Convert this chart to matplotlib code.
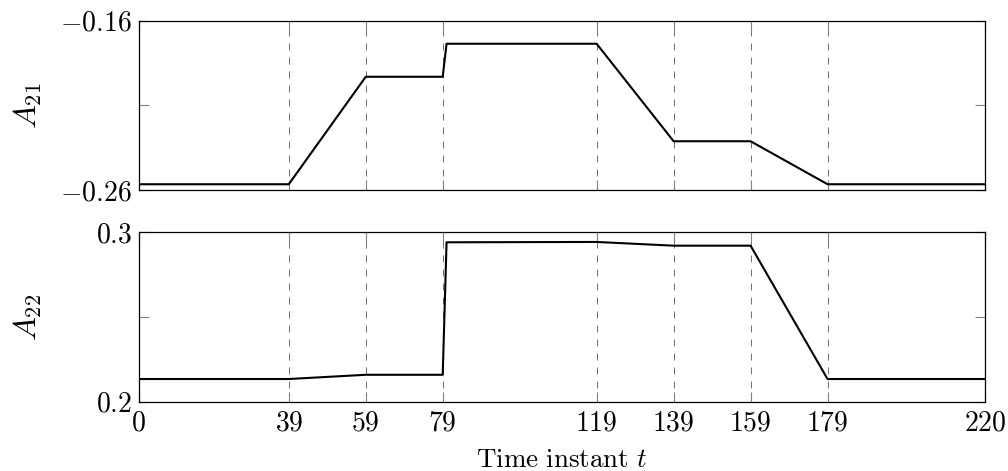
import matplotlib
matplotlib.use('Agg')
from matplotlib import pyplot as plt

# time instants where the profiles change
t_pts = [0, 39, 59, 79, 80, 119, 139, 159, 179, 220]

a21 = [-0.2566, -0.2566, -0.1931, -0.1931, -0.1736, -0.1736, -0.2312, -0.2312, -0.2566, -0.2566]
a22 = [0.2134, 0.2134, 0.2159, 0.2159, 0.2941, 0.2943, 0.2921, 0.2921, 0.2134, 0.2134]

switch_times = [39, 59, 79, 119, 139, 159, 179]
x_ticks = [0, 39, 59, 79, 119, 139, 159, 179, 220]

plt.rcParams['mathtext.fontset'] = 'cm'
plt.rcParams['font.family'] = 'serif'
plt.rcParams['font.serif'] = ['cmr10', 'DejaVu Serif']
plt.rcParams['axes.formatter.use_mathtext'] = True

FS = 20

fig = plt.figure(figsize=(10.08, 4.71), dpi=100)
ax1 = fig.add_axes([0.1376, 0.5966, 0.8399, 0.3594])
ax2 = fig.add_axes([0.1376, 0.1471, 0.8399, 0.3597])


def style_axis(ax, data, ylim, yticks, ylabels, ylabel, show_x):
    for t in switch_times:
        ax.axvline(t, color='0.45', lw=0.72, linestyle=(0, (7, 7)), zorder=1)
    ax.plot(t_pts, data, color='black', lw=1.5, zorder=3)
    ax.set_xlim(0, 220)
    ax.set_ylim(*ylim)
    ax.set_yticks(yticks)
    ax.set_yticklabels(ylabels, fontsize=FS)
    ax.set_xticks(x_ticks)
    if show_x:
        ax.set_xticklabels([f'${v}$' for v in x_ticks], fontsize=FS)
    else:
        ax.set_xticklabels([])
    ax.tick_params(direction='in', length=7, width=0.8, color='0.5',
                   top=True, right=True)
    ax.tick_params(axis='y', pad=5)
    ax.tick_params(axis='x', pad=6)
    for s in ax.spines.values():
        s.set_linewidth(0.9)
        s.set_color('black')
    ax.set_ylabel(ylabel, fontsize=FS + 3)
    ax.yaxis.set_label_coords(-0.112, 0.5)


style_axis(ax1, a21, (-0.26, -0.16), [-0.26, -0.21, -0.16],
           ['$-0.26$', '', '$-0.16$'], '$A_{21}$', False)
style_axis(ax2, a22, (0.2, 0.3), [0.2, 0.25, 0.3],
           ['$0.2$', '', '$0.3$'], '$A_{22}$', True)

ax2.set_xlabel(r'$\mathrm{Time\ instant}\ t$', fontsize=FS - 0.5)
ax2.xaxis.set_label_coords(0.5, -0.275)

plt.savefig('out.png', dpi=100)
plt.close(fig)
